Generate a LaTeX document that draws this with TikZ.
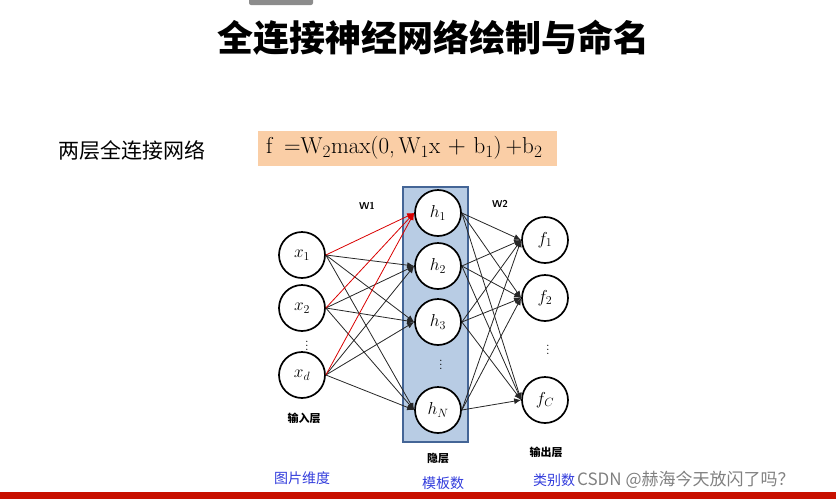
\documentclass[tikz,border=0pt]{standalone}
\usepackage{fontspec}
\newfontfamily\cjk{Noto Sans CJK SC}
\usetikzlibrary{arrows.meta}

\definecolor{mypeach}{RGB}{250,206,166}
\definecolor{myblue}{RGB}{184,204,228}
\definecolor{myborder}{RGB}{68,101,150}
\definecolor{mylabel}{RGB}{50,60,220}
\definecolor{myred}{RGB}{200,16,0}

\begin{document}
\begin{tikzpicture}[
    x=1pt,y=-1pt,
    neuron/.style={circle,draw,line width=1.7pt,fill=white,
        minimum size=46pt,inner sep=0pt,font=\fontsize{17}{17}\selectfont},
    link/.style={-{Latex[length=7pt,width=6pt]},line width=0.8pt,black!85},
    redlink/.style={link,red!85!black},
    dots/.style={inner sep=0pt,font=\fontsize{13}{13}\selectfont},
    layername/.style={font=\cjk\bfseries\fontsize{11}{11}\selectfont},
    dimname/.style={font=\cjk\fontsize{14}{14}\selectfont,text=mylabel}
]
\useasboundingbox (0,0) rectangle (836,499);

% screen bits
\fill[black!45,rounded corners=2pt] (249,-3) rectangle (313,5);
\fill[myred] (0,492) rectangle (836,499);

% title and formula
\node[font=\cjk\bfseries\fontsize{36}{36}\selectfont] (title) at (433,38) {全连接神经网络绘制与命名};
\node[font=\cjk\fontsize{21}{21}\selectfont,anchor=west] (twolayer) at (55,150) {两层全连接网络};
\node[fill=mypeach,anchor=west,text width=283pt,inner xsep=8pt,minimum height=35pt,
    font=\fontsize{23}{23}\selectfont] (formula) at (258,148)
    {f\enspace=W$_2$max(0,\,W$_1$x $+$ b$_1$)\,+b$_2$};

% hidden layer box
\node[draw=myborder,fill=myblue,line width=1.2pt,minimum width=65pt,
    minimum height=255pt] (hbox) at (435.5,314.5) {};

% neurons
\foreach \n/\y in {1/255, 2/308, d/375}
    \node[neuron] (x\n) at (302,\y) {$x_{\n}$};
\foreach \n/\y in {1/213, 2/266, 3/322, N/410}
    \node[neuron] (h\n) at (438,\y) {$h_{\n}$};
\foreach \n/\y in {1/240, 2/298, C/400}
    \node[neuron] (f\n) at (545,\y) {$f_{\n}$};

\node[dots] (xdots) at (307,343) {$\vdots$};
\node[dots] (hdots) at (441,362) {$\vdots$};
\node[dots] (fdots) at (548,347) {$\vdots$};

% connections
\foreach \i in {1,2,d} {
    \foreach \j in {2,3,N}
        \draw[link] (x\i.east) -- (h\j.west);
    \draw[redlink] (x\i.east) -- (h1.west);
}
\foreach \i in {1,2,3,N}
    \foreach \j in {1,2,C}
        \draw[link] (h\i.east) -- (f\j.west);

% labels
\node[font=\sffamily\bfseries\fontsize{10}{10}\selectfont] (wone) at (367,206) {W1};
\node[font=\sffamily\bfseries\fontsize{10}{10}\selectfont] (wtwo) at (500,204) {W2};
\node[layername] (inname) at (304,418) {输入层};
\node[layername] (hidname) at (438,458) {隐层};
\node[layername] (outname) at (546,452) {输出层};

\node[dimname] (indim) at (302,478) {图片维度};
\node[dimname] (hiddim) at (443,483) {模板数};
\node[dimname] (outdim) at (554,480) {类别数};
\node[anchor=west,text=black!50,font=\cjk\fontsize{17}{17}\selectfont,inner sep=0pt]
    (mark) at (577,480) {CSDN @赫海今天放闪了吗？};

\end{tikzpicture}
\end{document}
